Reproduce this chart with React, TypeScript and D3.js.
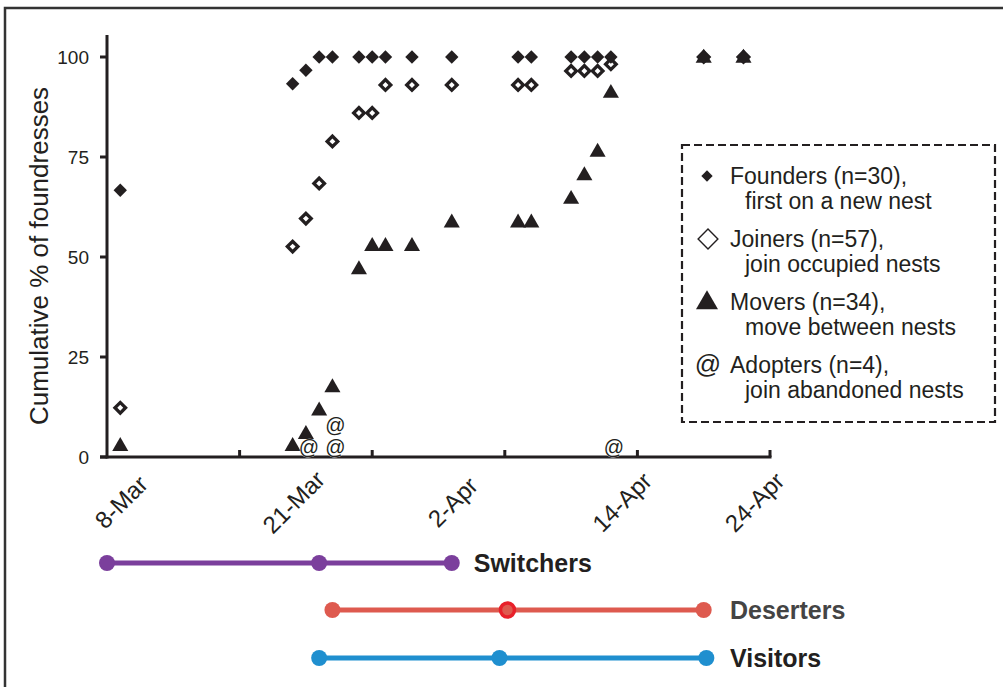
import { useEffect, useRef } from "react";
import * as d3 from "d3";

// cumulative % per arrival date
const founders: [string, number][] = [
  ["8-Mar", 66.7], ["21-Mar", 93.3], ["22-Mar", 96.7], ["23-Mar", 100], ["24-Mar", 100],
  ["26-Mar", 100], ["27-Mar", 100], ["28-Mar", 100], ["30-Mar", 100], ["2-Apr", 100],
  ["7-Apr", 100], ["8-Apr", 100], ["11-Apr", 100], ["12-Apr", 100], ["13-Apr", 100],
  ["14-Apr", 100], ["21-Apr", 100], ["24-Apr", 100],
];
const joiners: [string, number][] = [
  ["8-Mar", 12.3], ["21-Mar", 52.6], ["22-Mar", 59.6], ["23-Mar", 68.4], ["24-Mar", 78.9],
  ["26-Mar", 86], ["27-Mar", 86], ["28-Mar", 93], ["30-Mar", 93], ["2-Apr", 93],
  ["7-Apr", 93], ["8-Apr", 93], ["11-Apr", 96.5], ["12-Apr", 96.5], ["13-Apr", 96.5],
  ["14-Apr", 98.2], ["21-Apr", 100], ["24-Apr", 100],
];
const movers: [string, number][] = [
  ["8-Mar", 2.9], ["21-Mar", 2.9], ["22-Mar", 5.9], ["23-Mar", 11.8], ["24-Mar", 17.6],
  ["26-Mar", 47.1], ["27-Mar", 52.9], ["28-Mar", 52.9], ["30-Mar", 52.9], ["2-Apr", 58.8],
  ["7-Apr", 58.8], ["8-Apr", 58.8], ["11-Apr", 64.7], ["12-Apr", 70.6], ["13-Apr", 76.5],
  ["14-Apr", 91.2], ["21-Apr", 100], ["24-Apr", 100],
];
const adopters: [string, number][] = [
  ["22-Mar", 2.5], ["24-Mar", 8], ["24-Mar", 2.5], ["14-Apr", 2.5],
];

const dateLabels = ["8-Mar", "21-Mar", "2-Apr", "14-Apr", "24-Apr"];
const yTicks = [0, 25, 50, 75, 100];

// days after 7-Mar
const switchers = [0, 16, 26];
const deserters = [17, 30.2, 45];
const visitors = [16, 29.6, 45.2];

const legendItems = [
  ["Founders (n=30),", "first on a new nest"],
  ["Joiners (n=57),", "join occupied nests"],
  ["Movers (n=34),", "move between nests"],
  ["Adopters (n=4),", "join abandoned nests"],
];

const FONT = "'Liberation Sans', Arial, Helvetica, sans-serif";
const INK = "#231f20";

export default function App() {
  const ref = useRef<SVGSVGElement>(null);

  useEffect(() => {
    if (!ref.current) return;
    const svg = d3.select(ref.current);
    svg.selectAll("*").remove();

    const parse = d3.utcParse("%d-%b");
    const day = (s: string) => parse(s) as Date;
    const start = day("7-Mar");
    const fromDays = (n: number) => new Date(+start + n * 864e5);

    const x = d3.scaleUtc().domain([start, day("26-Apr")]).range([107, 770]);
    const y = d3.scaleLinear().domain([0, 100]).range([457, 57]);

    // frame
    svg.append("path")
      .attr("d", "M5,687V8H1003")
      .attr("fill", "none")
      .attr("stroke", "#333")
      .attr("stroke-width", 2.5);

    // y axis
    const yAxis = svg.append("g").attr("transform", "translate(107,0)");
    yAxis.append("line")
      .attr("y1", y(0) + 1.5).attr("y2", y(105.5))
      .attr("stroke", INK).attr("stroke-width", 3);
    yTicks.forEach((t) => {
      yAxis.append("line")
        .attr("x1", -7).attr("x2", 0).attr("y1", y(t)).attr("y2", y(t))
        .attr("stroke", INK).attr("stroke-width", 3);
      yAxis.append("text")
        .attr("x", -18).attr("y", y(t)).attr("dy", "0.36em")
        .attr("text-anchor", "end")
        .attr("font-family", FONT).attr("font-size", 19).attr("fill", INK)
        .text(t);
    });
    svg.append("text")
      .attr("transform", `translate(48,${y(50) - 1}) rotate(-90)`)
      .attr("text-anchor", "middle")
      .attr("font-family", FONT).attr("font-size", 26).attr("fill", INK)
      .text("Cumulative % of foundresses");

    // x axis, ticks every 10 days pointing into the plot
    svg.append("line")
      .attr("x1", 100).attr("x2", 771.5).attr("y1", y(0)).attr("y2", y(0))
      .attr("stroke", INK).attr("stroke-width", 3);
    d3.range(1, 6).map((k) => d3.utcDay.offset(start, k * 10)).forEach((d) => {
      svg.append("line")
        .attr("x1", x(d)).attr("x2", x(d)).attr("y1", y(0)).attr("y2", y(0) - 7)
        .attr("stroke", INK).attr("stroke-width", 3);
    });
    dateLabels.forEach((s, i) => {
      svg.append("text")
        .attr("transform", `translate(${x(day(s)) + 7 + (i > 2 ? 10 : 0)},${y(0) + 51}) rotate(-45)`)
        .attr("text-anchor", "middle")
        .attr("font-family", FONT).attr("font-size", 24).attr("fill", INK)
        .text(s);
    });

    const plot = svg.append("g");
    const diamond = d3.symbol(d3.symbolSquare, 90)();
    const openDiamond = d3.symbol(d3.symbolSquare, 56)();
    const triangle = d3.symbol(d3.symbolTriangle, 112)();

    plot.selectAll(".joiner").data(joiners).join("path")
      .attr("d", openDiamond)
      .attr("transform", (d) => `translate(${x(day(d[0]))},${y(d[1])}) rotate(45)`)
      .attr("fill", "#fff").attr("stroke", INK).attr("stroke-width", 3.3);
    plot.selectAll(".mover").data(movers).join("path")
      .attr("d", triangle)
      .attr("transform", (d) => `translate(${x(day(d[0]))},${y(d[1]) + 1})`)
      .attr("fill", INK);
    plot.selectAll(".founder").data(founders).join("path")
      .attr("d", diamond)
      .attr("transform", (d) => `translate(${x(day(d[0]))},${y(d[1])}) rotate(45)`)
      .attr("fill", INK);
    plot.selectAll(".adopter").data(adopters).join("text")
      .attr("x", (d) => x(day(d[0])))
      .attr("y", (d) => y(d[1]))
      .attr("dx", 3)
      .attr("dy", "0.35em")
      .attr("text-anchor", "middle")
      .attr("font-family", FONT).attr("font-size", 20).attr("fill", INK)
      .attr("stroke", "#fff").attr("stroke-width", 0.6).attr("paint-order", "stroke")
      .text("@");

    // legend
    const leg = svg.append("g");
    leg.append("rect")
      .attr("x", 682).attr("y", 145).attr("width", 313).attr("height", 277)
      .attr("fill", "#fff").attr("stroke", INK).attr("stroke-width", 2.2)
      .attr("stroke-dasharray", "8 4");
    legendItems.forEach((item, i) => {
      const base = 184 + i * 63;
      leg.append("text")
        .attr("x", 730).attr("y", base)
        .attr("font-family", FONT).attr("font-size", 23).attr("fill", INK)
        .text(item[0]);
      leg.append("text")
        .attr("x", 745).attr("y", base + 25)
        .attr("font-family", FONT).attr("font-size", 23).attr("fill", INK)
        .text(item[1]);
      const cy = base - 8;
      if (i === 0) {
        leg.append("path").attr("d", d3.symbol(d3.symbolSquare, 64)())
          .attr("transform", `translate(707,${cy}) rotate(45)`).attr("fill", INK);
      } else if (i === 1) {
        leg.append("path").attr("d", d3.symbol(d3.symbolSquare, 196)())
          .attr("transform", `translate(708,${cy}) rotate(45)`)
          .attr("fill", "none").attr("stroke", INK).attr("stroke-width", 1.4);
      } else if (i === 2) {
        leg.append("path").attr("d", d3.symbol(d3.symbolTriangle, 210)())
          .attr("transform", `translate(707,${cy + 1})`).attr("fill", INK);
      } else {
        leg.append("text")
          .attr("x", 708).attr("y", base)
          .attr("text-anchor", "middle")
          .attr("font-family", FONT).attr("font-size", 26).attr("fill", INK)
          .text("@");
      }
    });

    // strategy timelines
    const rows: [string, number[], number, string, string][] = [
      ["Switchers", switchers, 563, "#7b3f9c", INK],
      ["Deserters", deserters, 610, "#de5a4f", "#444"],
      ["Visitors", visitors, 658, "#1f8fcf", INK],
    ];
    rows.forEach(([name, pts, cy, color, textColor]) => {
      const xs = pts.map((p) => x(fromDays(p)));
      svg.append("line")
        .attr("x1", xs[0]).attr("x2", xs[xs.length - 1]).attr("y1", cy).attr("y2", cy)
        .attr("stroke", color).attr("stroke-width", 5);
      xs.forEach((px, j) => {
        const c = svg.append("circle").attr("cx", px).attr("cy", cy).attr("r", 8).attr("fill", color);
        if (name === "Deserters" && j === 1) {
          c.attr("r", 7).attr("stroke", "#e8202a").attr("stroke-width", 3.5);
        }
      });
      svg.append("text")
        .attr("x", name === "Switchers" ? xs[xs.length - 1] + 22 : 730)
        .attr("y", cy)
        .attr("dy", "0.35em")
        .attr("font-family", FONT).attr("font-size", 25).attr("font-weight", "bold")
        .attr("fill", textColor)
        .text(name);
    });
  }, []);

  return (
    <svg
      ref={ref}
      width={1003}
      height={687}
      style={{ position: "absolute", left: 0, top: 0, background: "#fff" }}
    />
  );
}
